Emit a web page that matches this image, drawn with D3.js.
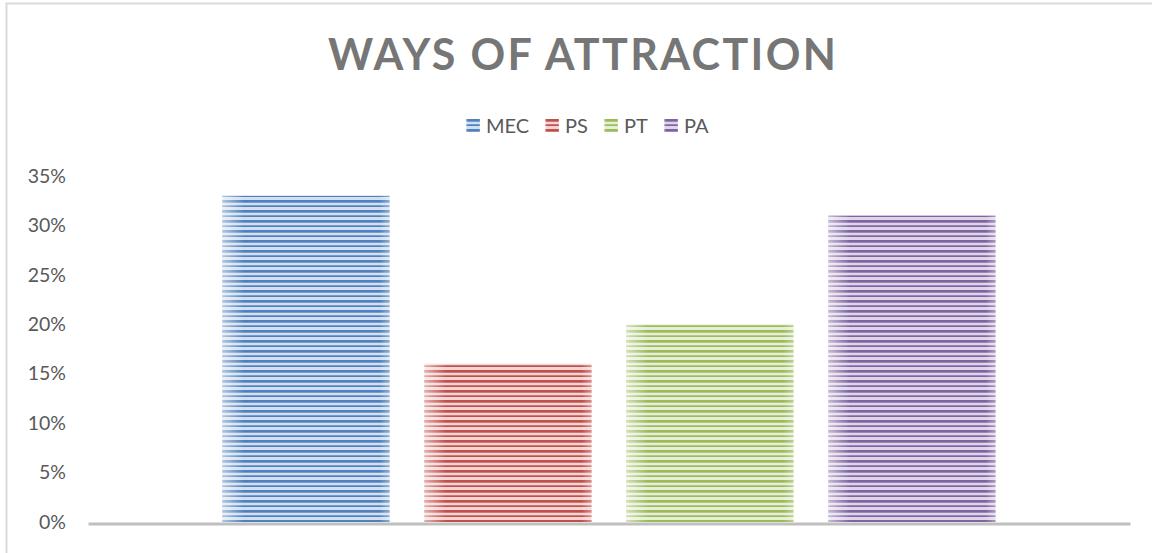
<!DOCTYPE html>
<html>
<head>
<meta charset="utf-8">
<script src="https://cdn.jsdelivr.net/npm/d3@7"></script>
<style>
  html, body { margin: 0; padding: 0; background: #fff; }
  svg { display: block; }
</style>
</head>
<body>
<svg id="chart" width="1152" height="553"></svg>
<script>
// Share of respondents by way of attraction
const categories = ["Ways"];
const seriesNames = ["MEC", "PS", "PT", "PA"];
const seriesValues = [0.33, 0.16, 0.20, 0.31];
const tickValues = [0, 0.05, 0.10, 0.15, 0.20, 0.25, 0.30, 0.35];
const darkColors = ["#4f81bd", "#c0504d", "#9bbb59", "#8064a2"];
const lightColors = ["#d3dff0", "#f2d4d3", "#e6eed8", "#ded6e8"];

const W = 1152, H = 553;
const margin = { left: 88, right: 22, top: 176, bottom: 31 };
const FONT = "Lato, 'Open Sans', 'Liberation Sans', sans-serif";
const svg = d3.select("#chart");
const defs = svg.append("defs");

// chart frame
svg.append("rect")
  .attr("x", 6.5).attr("y", 3.5)
  .attr("width", W + 10).attr("height", H + 10)
  .attr("fill", "none").attr("stroke", "#d9d9d9").attr("stroke-width", 2);

// horizontal stripe patterns for each series
const stripeRows = [[0, 2.7], [5.3, 1.7]];
seriesNames.forEach((name, i) => {
  const p = defs.append("pattern")
    .attr("id", "stripe-" + i)
    .attr("patternUnits", "userSpaceOnUse")
    .attr("x", 0).attr("y", 0)
    .attr("width", 10).attr("height", 10);
  p.append("rect").attr("width", 10).attr("height", 10).attr("fill", lightColors[i]);
  stripeRows.forEach(r => {
    p.append("rect").attr("x", 0).attr("y", r[0]).attr("width", 10).attr("height", r[1])
      .attr("fill", darkColors[i]);
  });
});

// soft highlight along the bar edges
const sheen = defs.append("linearGradient").attr("id", "sheen")
  .attr("x1", "0").attr("x2", "1").attr("y1", "0").attr("y2", "0");
[[0, 0.55], [0.13, 0], [0.94, 0], [1, 0.35]].forEach(s => {
  sheen.append("stop").attr("offset", s[0]).attr("stop-color", "#fff").attr("stop-opacity", s[1]);
});

// scales
const x0 = d3.scaleBand().domain(categories)
  .range([margin.left, W - margin.right]).paddingInner(0).paddingOuter(0.174);
const x1 = d3.scaleBand().domain(seriesNames)
  .range([0, x0.bandwidth()]).paddingInner(0.173).paddingOuter(0);
const y = d3.scaleLinear().domain([0, 0.35]).range([H - margin.bottom, margin.top]);

// title
svg.append("text")
  .attr("x", 582).attr("y", 70)
  .attr("text-anchor", "middle")
  .attr("font-family", FONT)
  .attr("font-weight", "bold")
  .attr("font-size", 43)
  .attr("fill", "#767676")
  .attr("textLength", 508).attr("lengthAdjust", "spacing")
  .text("WAYS OF ATTRACTION");

// legend
const legendX = [466, 545, 604, 664];
const legend = svg.append("g");
seriesNames.forEach((name, i) => {
  const g = legend.append("g").attr("transform", `translate(${legendX[i]},119)`);
  g.append("rect").attr("width", 14).attr("height", 13).attr("fill", `url(#stripe-${i})`);
  g.append("rect").attr("width", 14).attr("height", 13).attr("fill", "url(#sheen)");
  g.append("text").attr("x", 20).attr("y", 13.5)
    .attr("font-family", FONT)
    .attr("font-size", 20).attr("fill", "#595959")
    .text(name);
});

// bars
const group = svg.append("g");
categories.forEach(cat => {
  const gx = x0(cat);
  seriesNames.forEach((name, i) => {
    const bx = gx + x1(name), bw = x1.bandwidth();
    group.append("rect")
      .attr("x", bx).attr("y", y(seriesValues[i]))
      .attr("width", bw).attr("height", y(0) - y(seriesValues[i]))
      .attr("fill", `url(#stripe-${i})`);
    group.append("rect")
      .attr("x", bx).attr("y", y(seriesValues[i]))
      .attr("width", bw).attr("height", y(0) - y(seriesValues[i]))
      .attr("fill", "url(#sheen)");
  });
});

// y axis labels
const yAxis = d3.axisLeft(y).tickValues(tickValues)
  .tickFormat(d3.format(".0%")).tickSize(0).tickPadding(0);
const ya = svg.append("g").attr("transform", `translate(66,0)`).call(yAxis);
ya.select(".domain").remove();
ya.selectAll("text")
  .attr("font-family", FONT)
  .attr("font-size", 19.5).attr("fill", "#595959");

// category axis line
const xAxis = d3.axisBottom(x0).tickSize(0).tickFormat("");
const xa = svg.append("g").attr("transform", `translate(0,${y(0) + 1.5})`).call(xAxis);
xa.select(".domain").attr("stroke", "#bfbfbf").attr("stroke-width", 3);
</script>
</body>
</html>
